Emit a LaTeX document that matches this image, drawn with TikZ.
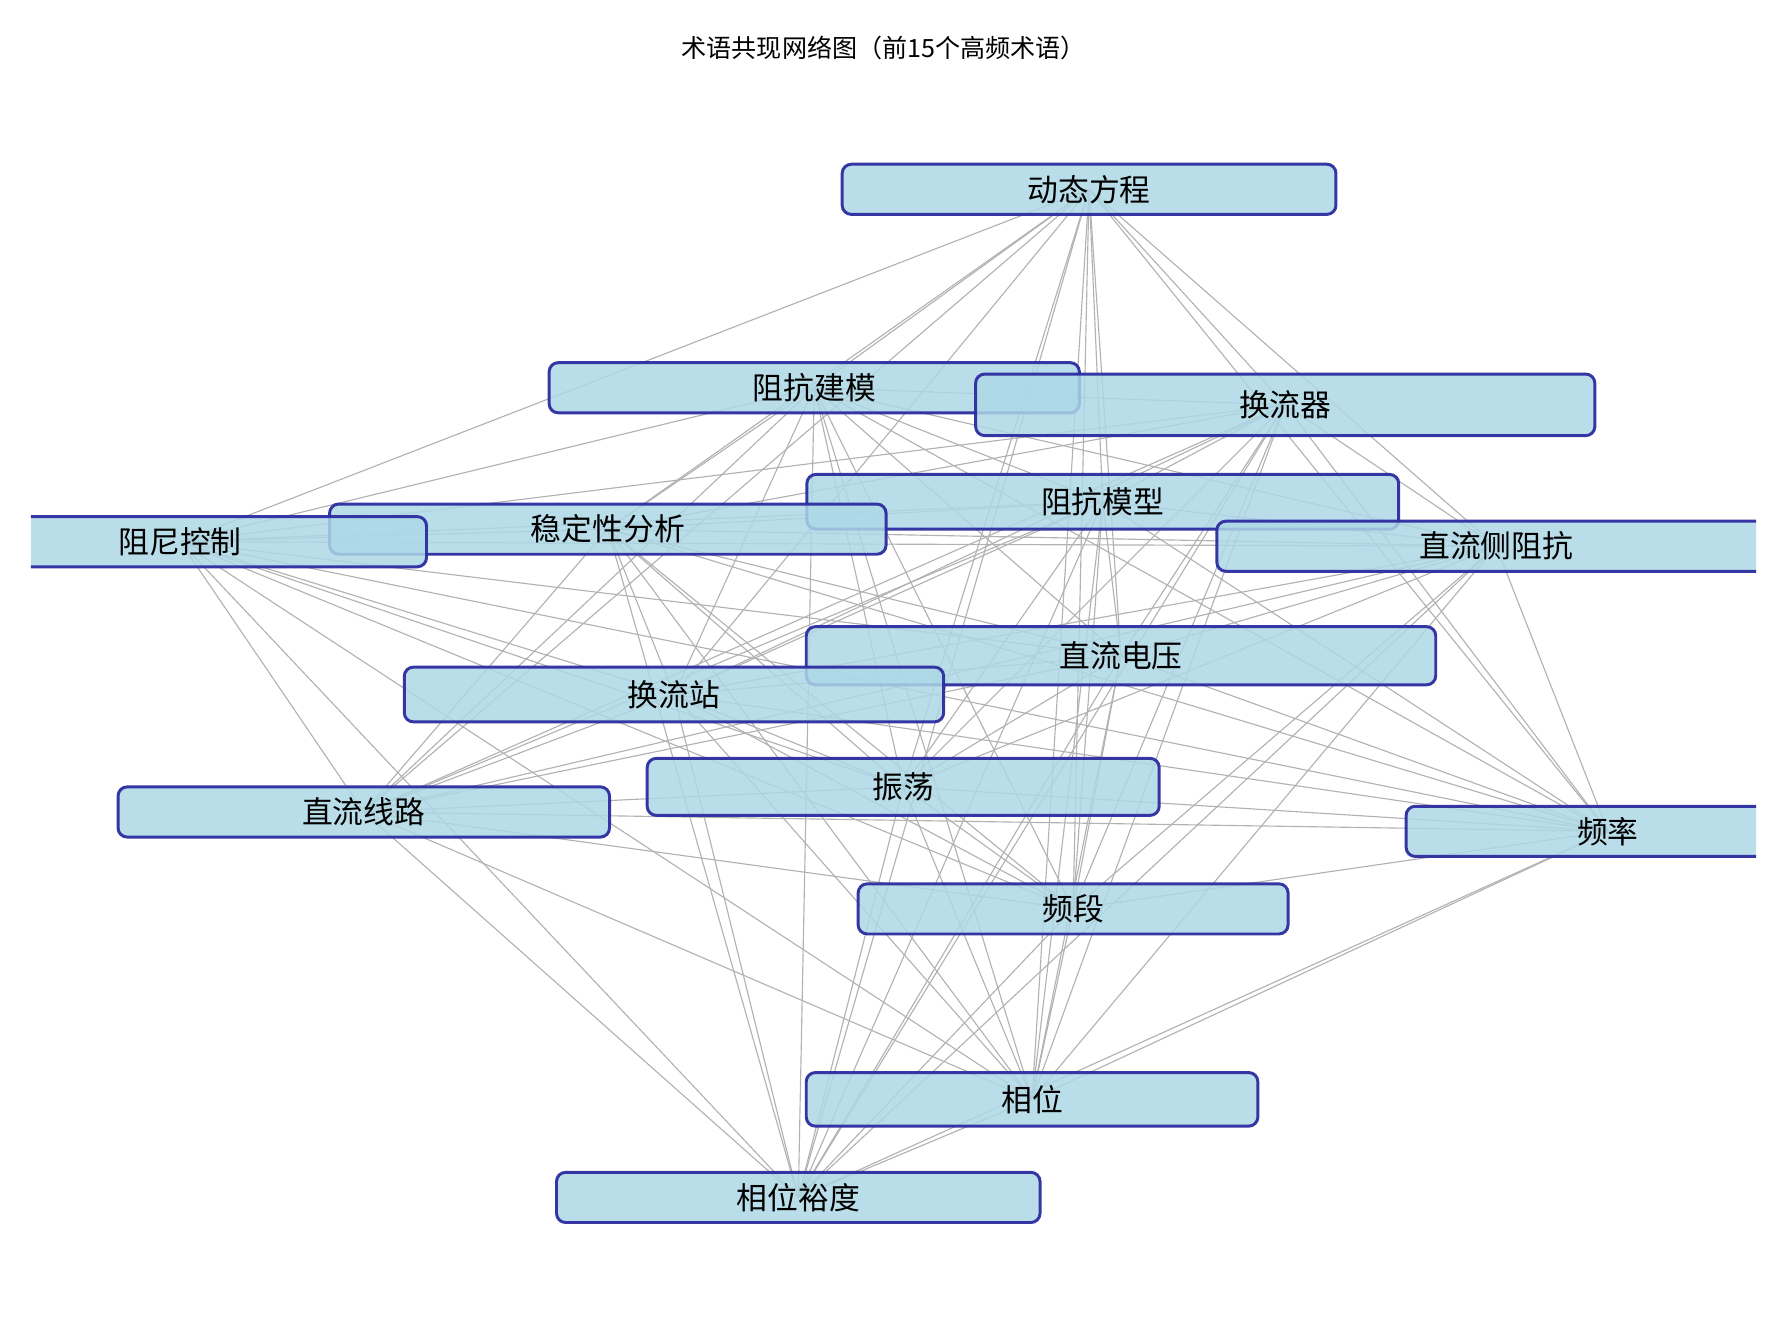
\documentclass[tikz,border=0pt]{standalone}
\usepackage{fontspec}
\setmainfont{Noto Sans CJK SC}
\definecolor{bx}{RGB}{44,44,160}
\definecolor{fl}{RGB}{173,216,230}
\begin{document}
\begin{tikzpicture}[x=1pt,y=-1pt,
  term/.style={draw=bx,line width=2.6pt,rounded corners=8pt,fill=fl,fill opacity=0.85,draw opacity=0.95,text opacity=1,minimum height=44pt,inner sep=0pt,font=\fontsize{27}{30}\selectfont},
  edge/.style={draw=black!30,line width=1pt}]
\useasboundingbox (0,0) rectangle (1560,1163);
\node[font=\fontsize{22}{26}\selectfont] (title) at (775,42) {术语共现网络图（前15个高频术语）};
\begin{scope}
\clip (27,0) rectangle (1540,1163);
\coordinate (c1) at (955,166);
\coordinate (c2) at (714,340);
\coordinate (c3) at (1127,355);
\coordinate (c4) at (967,440);
\coordinate (c5) at (533,464);
\coordinate (c6) at (158,475);
\coordinate (c7) at (1312,479);
\coordinate (c8) at (983,575);
\coordinate (c9) at (591,609);
\coordinate (c10) at (319,712);
\coordinate (c11) at (792,690);
\coordinate (c12) at (1410,729);
\coordinate (c13) at (941,797);
\coordinate (c14) at (905,964);
\coordinate (c15) at (700,1050);
\foreach \i in {1,...,14}{
  \pgfmathtruncatemacro{\s}{\i+1}
  \foreach \j in {\s,...,15}{
    \draw[edge] (c\i) -- (c\j);
  }
}
\node[term,minimum width=433pt] (n1) at (c1) {动态方程};
\node[term,minimum width=465pt] (n2) at (c2) {阻抗建模};
\node[term,minimum width=543pt,minimum height=54pt] (n3) at (c3) {换流器};
\node[term,minimum width=519pt,minimum height=48pt] (n4) at (c4) {阻抗模型};
\node[term,minimum width=488pt] (n5) at (c5) {稳定性分析};
\node[term,minimum width=432pt] (n6) at (c6) {阻尼控制};
\node[term,minimum width=490pt] (n7) at (c7) {直流侧阻抗};
\node[term,minimum width=552pt,minimum height=51pt] (n8) at (c8) {直流电压};
\node[term,minimum width=473pt,minimum height=48pt] (n9) at (c9) {换流站};
\node[term,minimum width=431pt] (n10) at (c10) {直流线路};
\node[term,minimum width=449pt,minimum height=50pt] (n11) at (c11) {振荡};
\node[term,minimum width=354pt] (n12) at (c12) {频率};
\node[term,minimum width=377pt] (n13) at (c13) {频段};
\node[term,minimum width=396pt,minimum height=47pt] (n14) at (c14) {相位};
\node[term,minimum width=424pt] (n15) at (c15) {相位裕度};
\end{scope}
\end{tikzpicture}
\end{document}
